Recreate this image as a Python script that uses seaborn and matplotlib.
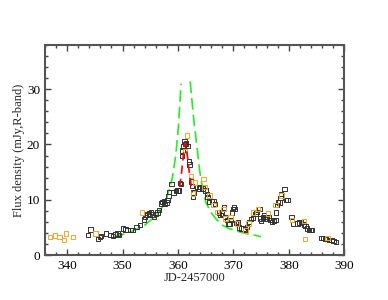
import numpy as np
import pandas as pd
import seaborn as sns
import matplotlib.pyplot as plt
from matplotlib.ticker import MultipleLocator

# black squares (main light curve)
black_t = [343.8, 344.2, 345.1, 345.6, 345.9, 346.1, 347.0, 347.8, 348.3, 348.7,
           349.1, 349.4, 350.1, 350.5, 350.9, 351.4, 351.8, 352.5, 353.1, 353.9,
           354.0, 354.2, 354.5, 354.8, 355.1, 355.4, 355.7, 356.0, 356.3, 356.6,
           356.9, 357.2, 357.5, 357.6, 357.9, 358.1, 358.3, 358.4, 358.8, 359.2,
           359.6, 359.9, 360.2, 360.4, 360.5, 360.7, 360.8, 361.0, 361.2, 361.3,
           361.5, 361.7, 362.0, 362.1, 362.4, 362.5, 362.7, 362.8, 363.5, 363.8,
           364.1, 364.4, 365.0, 365.2, 365.3, 365.6, 366.1, 366.4, 366.7, 367.4,
           367.7, 368.0, 368.3, 368.5, 368.8, 369.1, 369.3, 369.5, 369.7, 369.9,
           370.1, 370.2, 370.5, 370.8, 371.0, 371.4, 371.8, 372.1, 372.5, 372.8,
           373.2, 373.6, 374.0, 374.2, 374.7, 374.8, 375.0, 375.3, 375.5, 375.8,
           376.0, 376.4, 376.7, 377.0, 377.3, 377.6, 377.7, 377.9, 378.1, 378.3,
           378.5, 378.6, 379.2, 379.5, 379.8, 380.5, 380.8, 381.6, 381.9, 382.2,
           382.8, 383.0, 383.3, 383.6, 383.9, 384.2, 385.9, 386.2, 386.6, 387.3,
           387.7, 388.1, 388.5]
black_f = [3.6, 4.6, 3.9, 2.9, 3.3, 3.4, 3.9, 3.6, 3.4, 3.7,
           3.9, 3.6, 4.8, 4.6, 4.5, 4.5, 4.5, 5.1, 5.4, 6.4,
           6.9, 7.2, 7.3, 7.5, 7.8, 7.3, 6.9, 7.4, 7.7, 8.1,
           9.3, 9.6, 9.8, 9.2, 9.5, 9.9, 10.7, 11.4, 12.8, 11.3,
           11.6, 11.7, 11.7, 13.0, 12.8, 17.9, 18.9, 19.6, 20.6, 20.1,
           20.2, 19.7, 16.9, 16.4, 13.3, 12.5, 10.5, 11.3, 12.3, 12.0,
           12.3, 12.0, 11.7, 11.0, 10.5, 9.6, 9.8, 9.8, 9.2, 7.7,
           7.2, 7.5, 8.6, 6.9, 6.3, 5.6, 5.7, 6.3, 7.7, 8.3,
           8.7, 8.3, 5.8, 6.0, 5.0, 4.8, 4.8, 4.6, 5.1, 6.0,
           6.5, 6.7, 7.4, 7.8, 8.3, 6.6, 6.1, 6.8, 7.2, 6.9,
           6.6, 6.8, 6.3, 6.0, 6.1, 6.3, 7.7, 9.0, 9.6, 9.5,
           10.3, 11.0, 11.9, 9.9, 9.9, 6.9, 5.6, 5.7, 5.9, 6.0,
           5.5, 5.2, 4.8, 4.5, 4.5, 4.5, 3.1, 3.1, 2.9, 2.7,
           2.7, 2.5, 2.4]

# orange squares (second data set)
orange_t = [336.9, 337.8, 338.6, 339.4, 339.8, 341.1, 345.1, 353.5, 361.3, 361.6,
            362.3, 362.7, 363.1, 364.6, 364.8, 365.7, 366.4, 367.1, 368.2, 368.6,
            369.5, 370.7, 372.2, 372.7, 373.6, 374.4, 376.2, 377.6, 378.7, 380.6,
            382.7, 382.9, 387.0]
orange_f = [3.3, 3.5, 3.3, 2.7, 3.9, 3.3, 3.9, 7.7, 18.8, 21.6,
            14.3, 11.1, 13.1, 13.7, 12.3, 10.8, 9.0, 7.8, 8.3, 6.6,
            6.9, 5.7, 4.4, 5.7, 7.7, 8.3, 7.5, 9.0, 10.8, 6.3,
            6.1, 2.9, 3.1]

# green dashed model, two branches
green_left_t = [348.3, 350.0, 352.0, 354.0, 356.0, 357.0, 358.0, 359.0, 359.6, 360.1, 360.55]
green_left_f = [3.3, 3.7, 4.4, 5.4, 7.1, 8.4, 10.4, 14.0, 18.0, 23.5, 31.0]
green_right_t = [362.2, 362.8, 363.5, 363.9, 364.4, 365.0, 365.9, 366.8, 368.0, 369.2, 370.7, 372.2, 373.8, 375.0]
green_right_f = [31.4, 25.0, 19.0, 15.4, 12.3, 9.6, 7.8, 6.6, 5.4, 4.8, 4.3, 3.9, 3.6, 3.3]

# red dashed fit around the peak
red_t = [360.3, 360.6, 360.9, 361.15, 361.3, 361.5, 361.8, 362.1, 362.4, 362.6]
red_f = [12.3, 14.5, 17.3, 19.8, 20.3, 19.6, 17.0, 14.5, 12.5, 11.3]

sns.set_style("ticks")
plt.rcParams['font.family'] = ['Liberation Serif', 'DejaVu Serif']

fig = plt.figure(figsize=(3.88, 3.0), dpi=100)
ax = fig.add_axes([0.116, 0.15, 0.771, 0.70])

black_df = pd.DataFrame({'t': black_t, 'f': black_f})
orange_df = pd.DataFrame({'t': orange_t, 'f': orange_f})

sns.scatterplot(data=black_df, x='t', y='f', marker='s', s=10, facecolor='none',
                edgecolor='#333333', linewidth=0.7, ax=ax, zorder=3)
sns.scatterplot(data=orange_df, x='t', y='f', marker='s', s=10, facecolor='none',
                edgecolor='#f5a623', linewidth=0.7, ax=ax, zorder=3)

for tt, ff in [(green_left_t, green_left_f), (green_right_t, green_right_f)]:
    sns.lineplot(x=tt, y=ff, color='#22ee22', linewidth=1.2, estimator=None,
                 sort=False, ax=ax, zorder=2, linestyle=(0, (7, 3)))
sns.lineplot(x=red_t, y=red_f, color='red', linewidth=1.2, estimator=None,
             sort=False, ax=ax, zorder=4, linestyle=(0, (5, 3)))

ax.set_xlim(336, 390)
ax.set_ylim(0, 38)
ax.xaxis.set_major_locator(MultipleLocator(10))
ax.xaxis.set_minor_locator(MultipleLocator(2))
ax.yaxis.set_major_locator(MultipleLocator(10))
ax.yaxis.set_minor_locator(MultipleLocator(2))
ax.tick_params(which='both', direction='in', top=True, right=True,
               labelsize=9.5, colors='#444444', labelcolor='black')
ax.tick_params(which='major', length=4, width=1)
ax.tick_params(which='minor', length=2, width=1)
for sp in ax.spines.values():
    sp.set_color('#555555')
    sp.set_linewidth(1.5)

ax.set_xlabel('JD-2457000', fontsize=9, labelpad=0)
ax.set_ylabel('Flux density (mJy,R-band)', fontsize=9, labelpad=1)

fig.savefig('out.png', dpi=100)
